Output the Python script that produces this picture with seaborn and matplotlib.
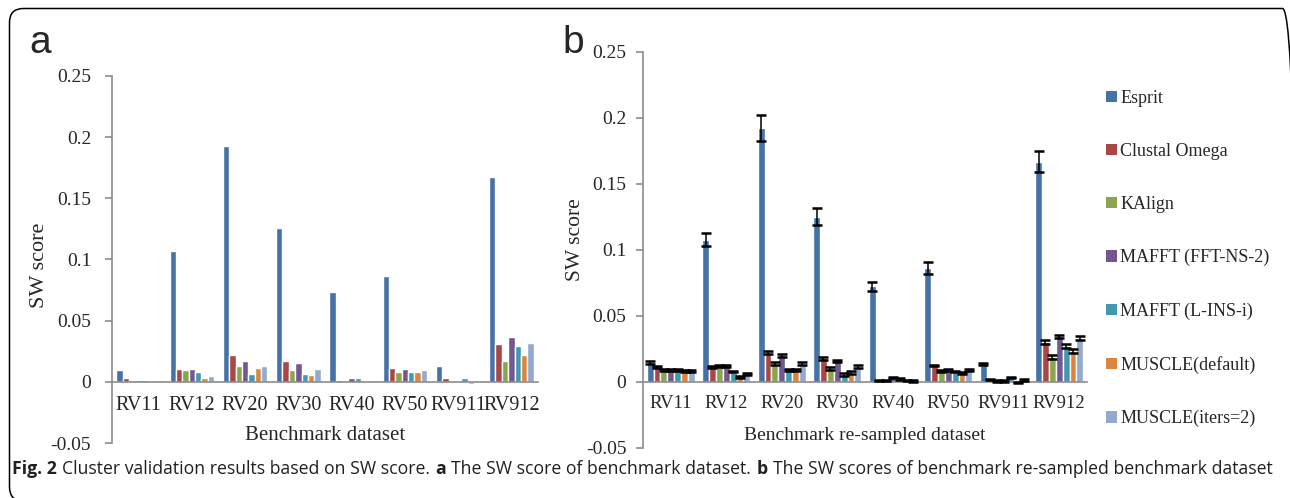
import numpy as np
import pandas as pd
import matplotlib
matplotlib.use('Agg')
import matplotlib.pyplot as plt
import seaborn as sns
from matplotlib.patches import FancyBboxPatch, Patch
from matplotlib.transforms import IdentityTransform
from matplotlib import font_manager

# Dados (SW score por metodo, na ordem dos datasets)
datasets = ['RV11', 'RV12', 'RV20', 'RV30', 'RV40', 'RV50', 'RV911', 'RV912']
metodos = ['Esprit', 'Clustal Omega', 'KAlign', 'MAFFT (FFT-NS-2)',
           'MAFFT (L-INS-i)', 'MUSCLE(default)', 'MUSCLE(iters=2)']
cores = ['#4572A7', '#AA4643', '#89A54E', '#71588F', '#4198AF', '#DB843D', '#93A9CF']

# painel a - benchmark dataset
esprit_a = [0.0093, 0.1067, 0.1931, 0.1255, 0.0731, 0.0867, 0.0131, 0.1672]
clustal_a = [0.0030, 0.0104, 0.0218, 0.0169, 0.0019, 0.0117, 0.0030, 0.0306]
kalign_a = [0.0016, 0.0093, 0.0131, 0.0093, 0.0002, 0.0079, 0.0002, 0.0169]
fftns_a = [0.0016, 0.0104, 0.0169, 0.0155, 0.0030, 0.0104, 0.0003, 0.0368]
linsi_a = [0.0016, 0.0079, 0.0068, 0.0068, 0.0030, 0.0079, 0.0030, 0.0295]
muscle_def_a = [0.0003, 0.0030, 0.0117, 0.0055, -0.0003, 0.0079, -0.0019, 0.0218]
muscle_it2_a = [0.0003, 0.0044, 0.0131, 0.0104, 0.0002, 0.0093, 0.0003, 0.0319]

# painel b - re-sampled dataset
esprit_b = [0.0147, 0.1077, 0.1926, 0.1250, 0.0722, 0.0862, 0.0134, 0.1668]
clustal_b = [0.0109, 0.0109, 0.0220, 0.0177, 0.0008, 0.0122, 0.0018, 0.0302]
kalign_b = [0.0091, 0.0117, 0.0137, 0.0101, 0.0008, 0.0079, 0.0005, 0.0188]
fftns_b = [0.0089, 0.0117, 0.0198, 0.0157, 0.0030, 0.0086, 0.0005, 0.0342]
linsi_b = [0.0091, 0.0076, 0.0089, 0.0056, 0.0020, 0.0076, 0.0030, 0.0271]
muscle_def_b = [0.0081, 0.0035, 0.0089, 0.0068, 0.0010, 0.0063, -0.0008, 0.0233]
muscle_it2_b = [0.0081, 0.0056, 0.0137, 0.0112, 0.0005, 0.0089, 0.0013, 0.0330]

# barras de erro do painel b
err_esprit_b = [0.0010, 0.0052, 0.0098, 0.0063, 0.0034, 0.0046, 0.0010, 0.0081]
err_outros_b = [0.0007, 0.0007, 0.0010, 0.0010, 0.0005, 0.0007, 0.0005, 0.0015]

y_ticks = [-0.05, 0, 0.05, 0.1, 0.15, 0.2, 0.25]
y_labels = ['-0.05', '0', '0.05', '0.1', '0.15', '0.2', '0.25']


def monta_df(series):
    linhas = []
    for metodo, vals in zip(metodos, series):
        for ds, v in zip(datasets, vals):
            linhas.append((ds, metodo, v))
    return pd.DataFrame(linhas, columns=['dataset', 'metodo', 'sw'])


df_a = monta_df([esprit_a, clustal_a, kalign_a, fftns_a, linsi_a, muscle_def_a, muscle_it2_a])
df_b = monta_df([esprit_b, clustal_b, kalign_b, fftns_b, linsi_b, muscle_def_b, muscle_it2_b])

sns.set_style('white')
plt.rcParams['font.family'] = ['Liberation Serif', 'DejaVu Serif']
cinza = '#8c8c8c'

W, H = 1290, 498
fig = plt.figure(figsize=(W / 100, H / 100), dpi=100)
ax_a = fig.add_axes([112 / W, 1 - 443 / H, 426 / W, 367 / H])
ax_b = fig.add_axes([643 / W, 1 - 447.5 / H, 444 / W, 395.5 / H])


def estilo(ax, ypad, xsize):
    ax.set_ylim(-0.05, 0.25)
    ax.set_xlim(-0.5, 7.5)
    ax.set_yticks(y_ticks, y_labels)
    ax.spines['bottom'].set_position(('data', 0))
    ax.spines['top'].set_visible(False)
    ax.spines['right'].set_visible(False)
    for s in ['left', 'bottom']:
        ax.spines[s].set_color(cinza)
        ax.spines[s].set_linewidth(1.2)
    ax.set_xticks(np.arange(-0.5, 8, 1), minor=True)
    ax.tick_params(axis='x', which='major', length=0, pad=10, labelsize=xsize)
    ax.tick_params(axis='x', which='minor', length=5, width=1.2, color=cinza, direction='out')
    ax.tick_params(axis='y', length=5, width=1.2, color=cinza, direction='out',
                   pad=ypad, labelsize=14, left=True)
    ax.grid(False)


# painel a
sns.barplot(data=df_a, x='dataset', y='sw', hue='metodo', hue_order=metodos, order=datasets,
            palette=cores, saturation=1, width=0.84, errorbar=None, legend=False, ax=ax_a)
estilo(ax_a, 10, 14.5)
ax_a.set_xlabel('Benchmark dataset', fontsize=15, va='center')
ax_a.xaxis.set_label_coords(0.5, (443 - 436) / 367)
ax_a.set_ylabel('SW score', fontsize=16, va='center')
ax_a.yaxis.set_label_coords((40 - 112) / 426, (443 - 265) / 367)

# painel b
sns.barplot(data=df_b, x='dataset', y='sw', hue='metodo', hue_order=metodos, order=datasets,
            palette=cores, saturation=1, width=0.87, errorbar=None, legend=False, ax=ax_b)
barras_b = list(ax_b.containers)
for i, cont in enumerate(barras_b):
    erros = err_esprit_b if i == 0 else err_outros_b
    xs = [p.get_x() + p.get_width() / 2 for p in cont.patches]
    ys = [p.get_y() + p.get_height() for p in cont.patches]
    ax_b.errorbar(xs, ys, yerr=erros, fmt='none', ecolor='black',
                  elinewidth=1.1, capsize=3.3, capthick=1.8, zorder=5)
estilo(ax_b, 7, 13.5)
ax_b.set_xlabel('Benchmark re-sampled dataset', fontsize=14, va='center')
ax_b.xaxis.set_label_coords(0.5, (447.5 - 435) / 395.5)
ax_b.set_ylabel('SW score', fontsize=15.5, va='center')
ax_b.yaxis.set_label_coords((575 - 643) / 444, (447.5 - 240) / 395.5)

# legenda
handles = [Patch(facecolor=c, edgecolor='none') for c in cores]
fig.legend(handles, metodos, loc='center left', bbox_to_anchor=(1106 / W, 1 - 258.5 / H),
           frameon=False, prop={'family': 'Liberation Serif', 'size': 13},
           handlelength=0.6, handleheight=0.6, handletextpad=0.2, labelspacing=2.0,
           borderpad=0, borderaxespad=0)

# letras dos paineis
fig.text(29 / W, 1 - 53 / H, 'a', fontsize=28, family='Liberation Sans', va='baseline')
fig.text(562 / W, 1 - 53 / H, 'b', fontsize=28, family='Liberation Sans', va='baseline')

# moldura arredondada (lados direito e inferior saem um pouco da imagem)
moldura = FancyBboxPatch((9.5, -3.0), 1287.0, 492.5, boxstyle='round,pad=0,rounding_size=14',
                         transform=IdentityTransform(), facecolor='none', edgecolor='black',
                         linewidth=1.1, clip_on=False)
fig.patches.append(moldura)

# legenda da figura (texto com partes em negrito)
try:
    font_manager.findfont(font_manager.FontProperties(family='Liberation Sans Narrow'),
                          fallback_to_default=False)
    fonte_cap = 'Liberation Sans Narrow'
except Exception:
    fonte_cap = 'Open Sans'

partes = [('Fig. 2', 'bold'), ('Cluster validation results based on SW score.', 'normal'),
          ('a', 'bold'), ('The SW score of benchmark dataset.', 'normal'),
          ('b', 'bold'), ('The SW scores of benchmark re-sampled benchmark dataset', 'normal')]
renderer = fig.canvas.get_renderer()


def escreve_cap(tam):
    textos = []
    x = 12.0
    for txt, peso in partes:
        t = fig.text(x / W, 1 - 469 / H, txt, fontsize=tam, family=fonte_cap,
                     fontweight=peso, va='center', color='#231f20')
        textos.append(t)
        x = t.get_window_extent(renderer).x1 + 0.3 * tam * 100 / 72
    return textos, x


textos, x_fim = escreve_cap(13)
tam = 13 * (1272 - 12) / (x_fim - 12)
for t in textos:
    t.remove()
escreve_cap(tam)

fig.savefig('out.png', dpi=100)
